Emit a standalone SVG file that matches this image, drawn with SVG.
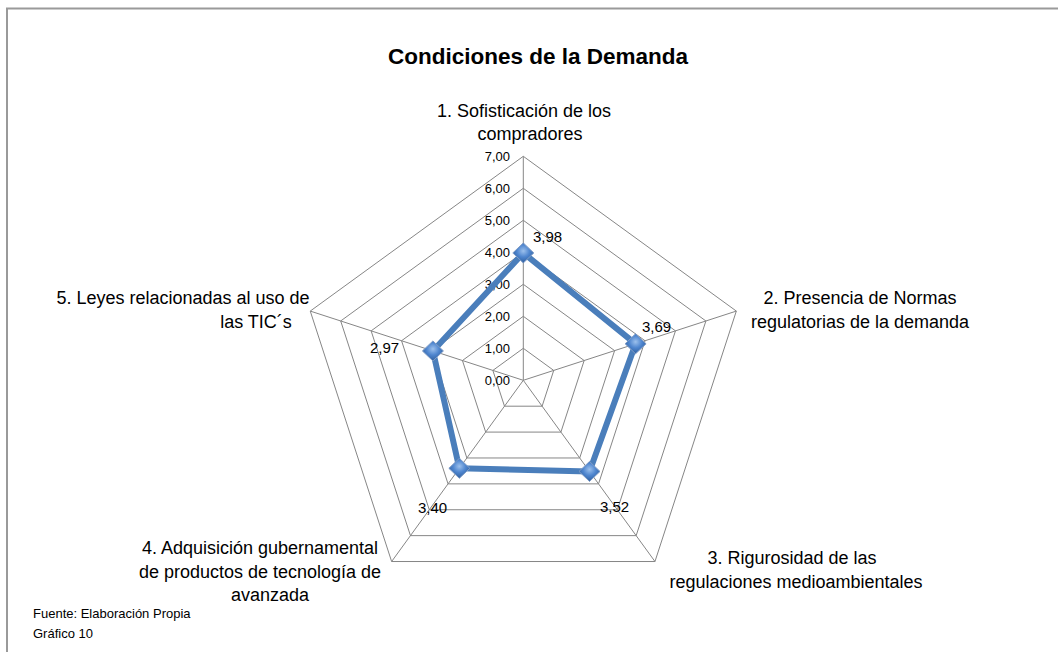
<svg xmlns="http://www.w3.org/2000/svg" width="1058" height="652" viewBox="0 0 1058 652">
<style>
.cat{font-family:"Liberation Sans",Arial,sans-serif;font-size:18px;fill:#000;text-anchor:middle}
.ax{font-family:"Liberation Sans",Arial,sans-serif;font-size:13px;fill:#000;text-anchor:end}
.dl{font-family:"Liberation Sans",Arial,sans-serif;font-size:15px;fill:#000}
.ft{font-family:"Liberation Sans",Arial,sans-serif;font-size:13px;fill:#000}
.grid{fill:none;stroke:#868686;stroke-width:1}
</style>
<defs>
<radialGradient id="mg" cx="50%" cy="40%" r="60%">
<stop offset="0" stop-color="#9cc0ec"/>
<stop offset="0.5" stop-color="#4f86cf"/>
<stop offset="1" stop-color="#2f5f9e"/>
</radialGradient>
<symbol id="mk" viewBox="-11 -11 22 22" overflow="visible">
<path d="M0,-10 L10.5,0 L0,10 L-10.5,0 Z" fill="url(#mg)" stroke="#7f9cc6" stroke-width="1"/>
</symbol>
</defs>
<rect width="1058" height="652" fill="#fff"/>
<rect x="7" y="8.5" width="1100" height="700" fill="none" stroke="#9a9a9a" stroke-width="2"/>
<text x="538" y="64" font-family="'Liberation Sans',Arial,sans-serif" font-size="22.5" font-weight="bold" text-anchor="middle">Condiciones de la Demanda</text>
<g id="grid">
<polygon class="grid" points="523.3,348.3 553.73,370.41 542.11,406.19 504.49,406.19 492.87,370.41"/>
<polygon class="grid" points="523.3,316.3 584.17,360.52 560.92,432.08 485.68,432.08 462.43,360.52"/>
<polygon class="grid" points="523.3,284.3 614.60,350.63 579.73,457.97 466.87,457.97 432.00,350.63"/>
<polygon class="grid" points="523.3,252.3 645.04,340.75 598.54,483.86 448.06,483.86 401.56,340.75"/>
<polygon class="grid" points="523.3,220.3 675.47,330.86 617.35,509.74 429.25,509.74 371.13,330.86"/>
<polygon class="grid" points="523.3,188.3 705.90,320.97 636.16,535.63 410.44,535.63 340.70,320.97"/>
<polygon class="grid" points="523.3,156.3 736.34,311.08 654.97,561.52 391.63,561.52 310.26,311.08"/>
<path class="grid" d="M523.3,380.3 L523.3,156.3 M523.3,380.3 L736.34,311.08 M523.3,380.3 L654.97,561.52 M523.3,380.3 L391.63,561.52 M523.3,380.3 L310.26,311.08"/>
</g>
<g id="axis-labels">
<text class="ax" x="510" y="385.3">0,00</text>
<text class="ax" x="510" y="353.3">1,00</text>
<text class="ax" x="510" y="321.3">2,00</text>
<text class="ax" x="510" y="289.3">3,00</text>
<text class="ax" x="510" y="257.3">4,00</text>
<text class="ax" x="510" y="225.3">5,00</text>
<text class="ax" x="510" y="193.3">6,00</text>
<text class="ax" x="510" y="161.3">7,00</text>
</g>
<g id="connectors">
<polygon points="523.3,252.94 635.60,343.81 589.51,471.43 459.35,468.32 432.91,350.93" fill="none" stroke="#4a7ebb" stroke-width="6" stroke-linejoin="round"/>
</g>
<g id="markers">
<use href="#mk" x="512.3" y="241.94" width="22" height="22"/>
<use href="#mk" x="624.6" y="332.81" width="22" height="22"/>
<use href="#mk" x="578.51" y="460.43" width="22" height="22"/>
<use href="#mk" x="448.35" y="457.32" width="22" height="22"/>
<use href="#mk" x="421.91" y="339.93" width="22" height="22"/>
</g>
<g id="data-labels">
<text class="dl" x="533" y="242">3,98</text>
<text class="dl" x="642" y="332">3,69</text>
<text class="dl" x="600" y="512">3,52</text>
<text class="dl" x="418" y="513">3,40</text>
<text class="dl" x="370" y="353">2,97</text>
</g>
<g id="cat1">
<text class="cat" x="524" y="117">1. Sofisticación de los</text>
<text class="cat" x="530" y="140">compradores</text>
</g>
<g id="cat2">
<text class="cat" x="860" y="304">2. Presencia de Normas</text>
<text class="cat" x="860" y="328">regulatorias de la demanda</text>
</g>
<g id="cat3">
<text class="cat" x="792" y="564">3. Rigurosidad de las</text>
<text class="cat" x="796" y="588">regulaciones medioambientales</text>
</g>
<g id="cat4">
<text class="cat" x="260" y="554">4. Adquisición gubernamental</text>
<text class="cat" x="260" y="578">de productos de tecnología de</text>
<text class="cat" x="270" y="601">avanzada</text>
</g>
<g id="cat5">
<text class="cat" x="183" y="304">5. Leyes relacionadas al uso de</text>
<text class="cat" x="256" y="328">las TIC´s</text>
</g>
<g id="footer">
<text class="ft" x="33" y="618">Fuente: Elaboración Propia</text>
<text class="ft" x="33" y="638">Gráfico  10</text>
</g>
</svg>
